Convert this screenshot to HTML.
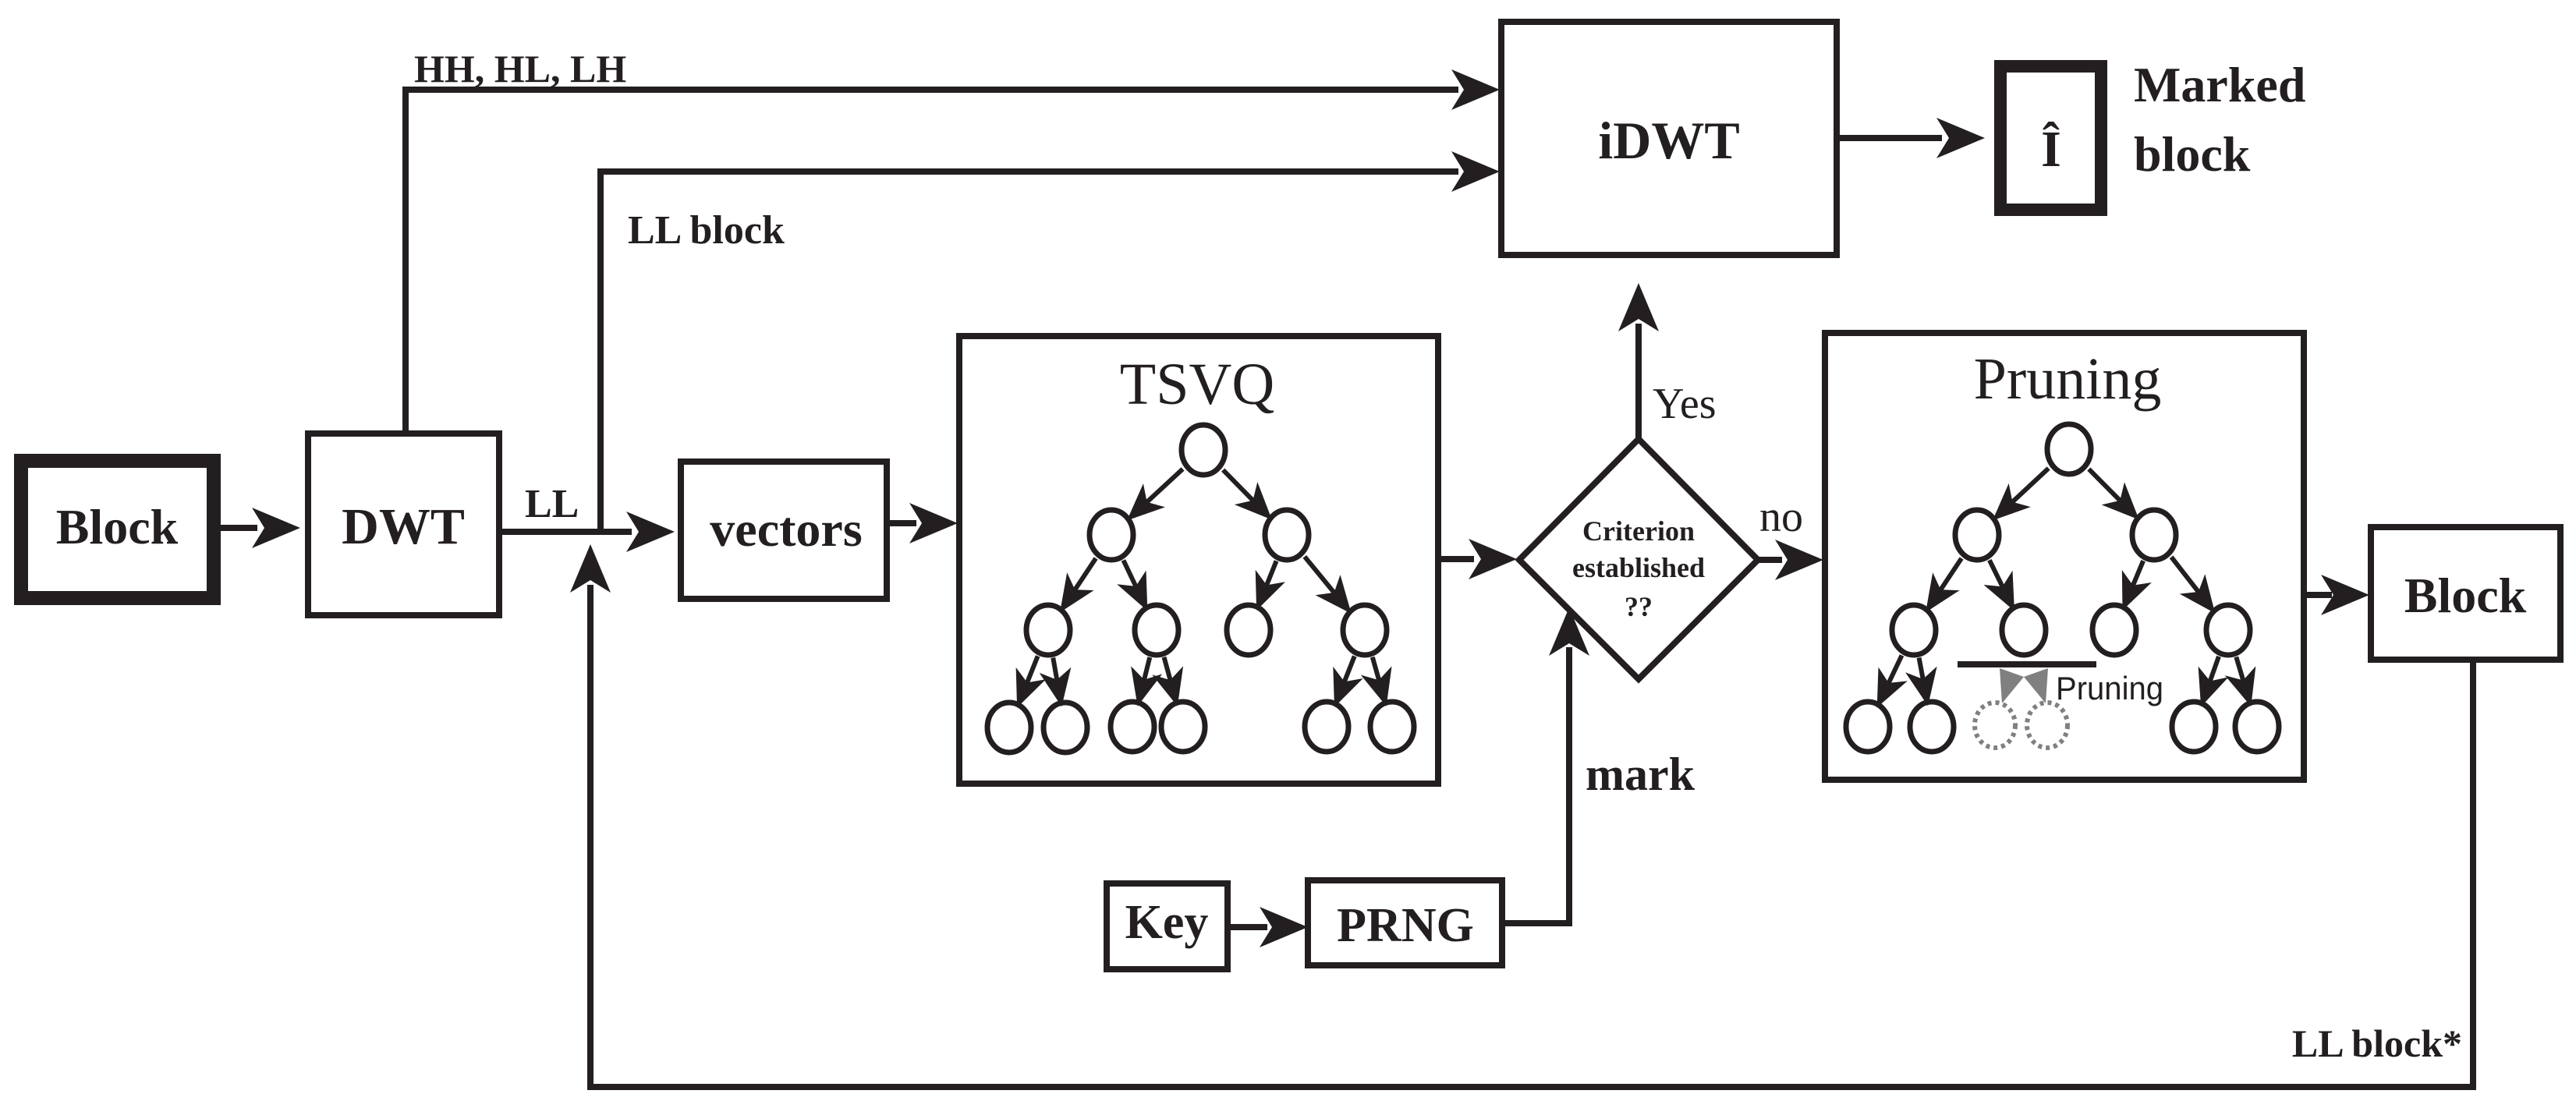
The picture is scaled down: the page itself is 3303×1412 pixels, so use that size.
<!DOCTYPE html>
<html><head><meta charset="utf-8">
<style>
html,body{margin:0;padding:0;background:#fff;}
svg{display:block;}
text{font-family:"Liberation Serif",serif;fill:#231f20;}
.b{font-weight:bold;}
</style></head>
<body>
<svg id="s" width="3303" height="1412" viewBox="0 0 3303 1412" xmlns="http://www.w3.org/2000/svg">
<defs>
<polygon id="ah" points="0,0 -62,-26 -46,0 -62,26" fill="#231f20"/>
<polygon id="sah" points="0,0 -30,-13 -22,0 -30,13" fill="#231f20"/>
</defs>
<g fill="none" stroke="#231f20" stroke-width="8">
<!-- Block -->
<rect x="27" y="591" width="247" height="176" stroke-width="18"/>
<!-- DWT -->
<rect x="395" y="556" width="245" height="233"/>
<!-- vectors -->
<rect x="873" y="592" width="264" height="176"/>
<!-- TSVQ box -->
<rect x="1230" y="431" width="614" height="574"/>
<!-- iDWT -->
<rect x="1925" y="28" width="430" height="299"/>
<!-- I hat box -->
<rect x="2565" y="85" width="129" height="184" stroke-width="16"/>
<!-- Diamond -->
<polygon points="2101,563 2254,718 2101,871 1948,718"/>
<!-- Pruning box -->
<rect x="2340" y="427" width="614" height="573"/>
<!-- Block2 -->
<rect x="3040" y="676" width="243" height="170"/>
<!-- Key -->
<rect x="1419" y="1133" width="155" height="110"/>
<!-- PRNG -->
<rect x="1677" y="1129" width="249" height="109"/>
<!-- connectors -->
<polyline points="274,677 330,677"/>
<polyline points="520,556 520,115 1870,115"/>
<polyline points="640,682 810,682"/>
<polyline points="770,682 770,220 1870,220"/>
<polyline points="1137,671 1175,671"/>
<polyline points="2359,177 2490,177"/>
<polyline points="1844,717 1890,717"/>
<polyline points="2101,563 2101,415"/>
<polyline points="2254,718 2285,718"/>
<polyline points="2954,763 2990,763"/>
<polyline points="3171,846 3171,1394 757,1394 757,750"/>
<polyline points="1574,1189 1625,1189"/>
<polyline points="1926,1184 2012,1184 2012,830"/>
<line x1="2510" y1="852" x2="2688" y2="852"/>
</g>
<g>
<use href="#ah" transform="translate(385,677)"/>
<use href="#ah" transform="translate(1923,115)"/>
<use href="#ah" transform="translate(1923,220)"/>
<use href="#ah" transform="translate(865,682)"/>
<use href="#ah" transform="translate(1228,671)"/>
<use href="#ah" transform="translate(2545,177)"/>
<use href="#ah" transform="translate(1945,717)"/>
<use href="#ah" transform="translate(2101,363) rotate(-90)"/>
<use href="#ah" transform="translate(2338,718)"/>
<use href="#ah" transform="translate(3038,763)"/>
<use href="#ah" transform="translate(757,698) rotate(-90)"/>
<use href="#ah" transform="translate(1677,1189)"/>
<use href="#ah" transform="translate(2012,779) rotate(-90)"/>
</g>
<g id="trees" fill="none" stroke="#231f20" stroke-width="7"></g>
<!-- pruned part -->
<g fill="#808080">
<polygon points="2564,857 2595,868 2567,902"/>
<polygon points="2626,857 2595,868 2623,902"/>
</g>
<g fill="none" stroke="#808080" stroke-width="6" stroke-dasharray="5,5">
<ellipse cx="2558" cy="930" rx="26" ry="29"/>
<ellipse cx="2625" cy="930" rx="26" ry="29"/>
</g>
<!-- text -->
<text class="b" x="150" y="697" font-size="64" text-anchor="middle">Block</text>
<text class="b" x="517" y="697" font-size="66" text-anchor="middle">DWT</text>
<text class="b" x="1008" y="700" font-size="64" text-anchor="middle">vectors</text>
<text class="b" x="2140" y="203" font-size="68" text-anchor="middle">iDWT</text>
<text class="b" x="2630" y="213" font-size="66" text-anchor="middle">Î</text>
<text class="b" x="2736" y="130" font-size="64">Marked</text>
<text class="b" x="2736" y="219" font-size="64">block</text>
<text class="b" x="531" y="105" font-size="50">HH, HL, LH</text>
<text x="673" y="663" font-size="52" font-weight="bold">LL</text>
<text class="b" x="805" y="312" font-size="52">LL block</text>
<text x="1535" y="518" font-size="76" text-anchor="middle">TSVQ</text>
<text x="2651" y="511" font-size="76" text-anchor="middle">Pruning</text>
<text class="b" x="2101" y="693" font-size="36" text-anchor="middle">Criterion</text>
<text class="b" x="2101" y="740" font-size="36" text-anchor="middle">established</text>
<text class="b" x="2101" y="790" font-size="36" text-anchor="middle">??</text>
<text x="2119" y="536" font-size="56">Yes</text>
<text x="2256" y="681" font-size="56">no</text>
<text class="b" x="2033" y="1013" font-size="60">mark</text>
<text class="b" x="1496" y="1203" font-size="62" text-anchor="middle">Key</text>
<text class="b" x="1802" y="1207" font-size="62" text-anchor="middle">PRNG</text>
<text class="b" x="3157" y="1355" font-size="50" text-anchor="end">LL block*</text>
<text x="2636" y="897" font-size="42" style="font-family:'Liberation Sans',sans-serif" textLength="138" lengthAdjust="spacingAndGlyphs">Pruning</text>
<text class="b" x="3161" y="785" font-size="64" text-anchor="middle">Block</text>
</svg>
<script>
(function(){
var g=document.getElementById('trees');var NS='http://www.w3.org/2000/svg';
function el(n,a){var e=document.createElementNS(NS,n);for(var k in a)e.setAttribute(k,a[k]);g.appendChild(e);return e;}
function tree(nodes,edges,skip){
 nodes.forEach(function(p,i){if(skip&&skip.indexOf(i)>=0)return;el('ellipse',{cx:p[0],cy:p[1],rx:p[2]||28,ry:p[3]||32});});
 edges.forEach(function(e){var a=nodes[e[0]],b=nodes[e[1]];var dx=b[0]-a[0],dy=b[1]-a[1],L=Math.sqrt(dx*dx+dy*dy);var ux=dx/L,uy=dy/L;
  var sx=a[0]+ux*36,sy=a[1]+uy*36,ex=b[0]-ux*36,ey=b[1]-uy*36;
  var col=e[2]?'#808080':'#231f20';
  if(e[2])return;
  el('line',{x1:sx,y1:sy,x2:ex-ux*18,y2:ey-uy*18,stroke:col,'stroke-width':6});
  var ang=Math.atan2(dy,dx)*180/Math.PI;
  var u=document.createElementNS(NS,'use');u.setAttribute('href','#sah');u.setAttribute('transform','translate('+ex+','+ey+') rotate('+ang+')');g.appendChild(u);
 });
}
var T=[[1543,577],[1425,686],[1650,686],[1344,808],[1483,808],[1601,808],[1750,808],[1294,933],[1366,933],[1452,932],[1517,932],[1701,932],[1785,932]];
var E=[[0,1],[0,2],[1,3],[1,4],[2,5],[2,6],[3,7],[3,8],[4,9],[4,10],[6,11],[6,12]];
tree(T,E);
var P=[[2653,576],[2535,686],[2762,686],[2454,808],[2595,808],[2711,808],[2857,808],[2395,932],[2477,932],[2559,932],[2625,932],[2813,932],[2894,932]];
var EP=[[0,1],[0,2],[1,3],[1,4],[2,5],[2,6],[3,7],[3,8],[4,9,1],[4,10,1],[6,11],[6,12]];
tree(P,EP,[9,10]);
})();
</script>
</body></html>
